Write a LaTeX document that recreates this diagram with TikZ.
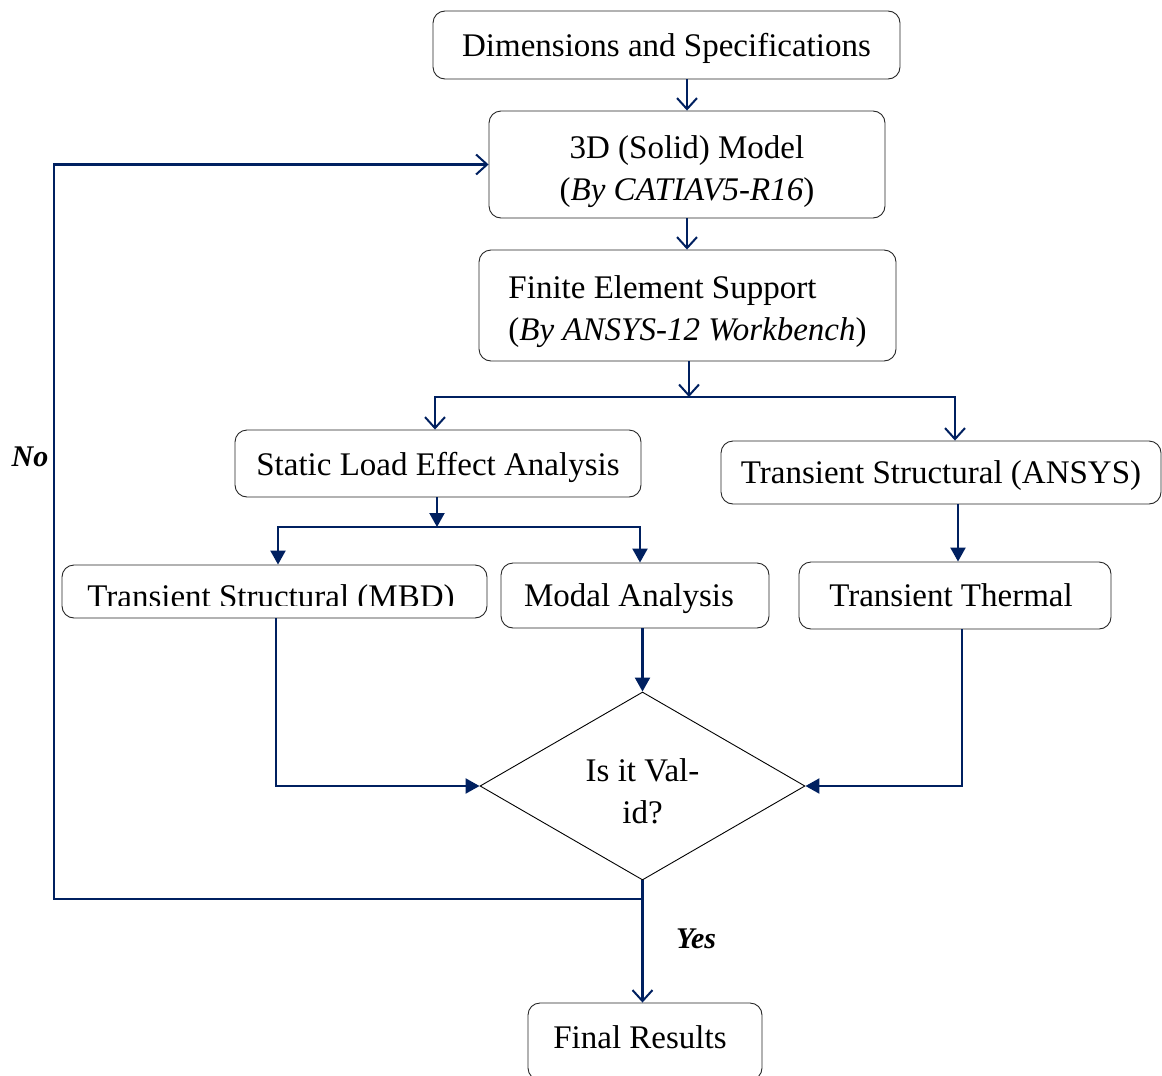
\documentclass[tikz,border=0pt]{standalone}
\usepackage{fontspec}
\setmainfont{Liberation Serif}
\usetikzlibrary{arrows.meta,shapes.geometric}
\definecolor{navy}{RGB}{0,32,96}
\begin{document}
\begin{tikzpicture}[x=1pt,y=-1pt,
  txt/.style={font=\fontsize{33}{42}\selectfont, inner sep=0pt, text depth=0pt},
  box/.style={draw=black!85, line width=0.9pt, rounded corners=12pt, inner sep=0pt, txt, align=center},
  conn/.style={draw=navy, line width=2.2pt},
  openarr/.style={conn, -{Straight Barb[length=11pt,width=20pt,line width=2pt]}},
  fillarr/.style={conn, -{Triangle[length=14pt,width=15pt]}},
  lbl/.style={font=\fontsize{30}{36}\selectfont\bfseries\itshape, inner sep=0pt}]
\useasboundingbox (0,0) rectangle (1162,1076);

\node[box, minimum width=467pt, minimum height=68pt] (b1) at (666.5,45) {Dimensions and Specifications};
\node[box, minimum width=396pt, minimum height=107pt] (b2) at (687,164.5) {};
\node[txt, align=center] (b2t) at ([yshift=-4pt]b2.center) {3D (Solid) Model\\(\textit{By CATIAV5-R16})};
\node[box, minimum width=417pt, minimum height=111pt] (b3) at (687.5,305.5) {};
\node[txt, align=left] (b3t) at ([yshift=-3pt]b3.center) {Finite Element Support\\(\textit{By ANSYS-12 Workbench})};
\node[box, minimum width=406pt, minimum height=67pt] (st) at (438,463.5) {Static Load Effect Analysis};
\node[box, minimum width=440pt, minimum height=63pt] (an) at (941,472.5) {Transient Structural (ANSYS)};

\node[box, minimum width=425pt, minimum height=53pt] (mbd) at (274.5,591.5) {};
\begin{scope}
  \clip (62,565) rectangle (487,605);
  \node[txt, anchor=base] (mbdt) at (271,607) {Transient Structural (MBD)};
\end{scope}
\node[box, minimum width=268pt, minimum height=65pt] (mo) at (635,595.5) {Modal Analysis\hspace*{12pt}};
\node[box, minimum width=312pt, minimum height=67pt] (th) at (955,595.5) {Transient Thermal\hspace*{8pt}};

\node[draw=black, line width=0.9pt, diamond, aspect=1.73, minimum width=325pt, minimum height=188pt, inner sep=0pt] (dia) at (642.5,786) {};
\node[txt, align=center] (diat) at ([yshift=-5pt]dia.center) {Is it Val-\\id?};

\node[box, minimum width=234pt, minimum height=77pt] (fin) at (645,1041.5) {};
\node[txt, anchor=base] (fint) at (640,1048) {Final Results};

\node[lbl] (no) at (30,457) {No};
\node[lbl] (yes) at (696,939) {Yes};

% connectors
\coordinate (j1) at (689,397);
\coordinate (j2) at (437,527);
\coordinate (cno) at (54,899);
\draw[openarr] (b1.south -| b2.north) -- (b2.north);
\draw[openarr] (b2.south) -- (b2.south |- b3.north);
\draw[openarr] (b3.south -| j1) -- (j1);
\draw[openarr] (j1) -| ([xshift=-3pt]st.north);
\draw[openarr] (j1) -| ([xshift=14pt]an.north);
\draw[fillarr] (st.south -| j2) -- (j2);
\draw[fillarr] (j2) -| ([xshift=3.5pt]mbd.north);
\draw[fillarr] (j2) -| ([xshift=5pt]mo.north);
\draw[fillarr] ([xshift=17pt]an.south) -- ([xshift=17pt]an.south |- th.north);
\draw[fillarr] (mo.south -| dia.north) -- (dia.north);
\draw[fillarr] ([xshift=1.5pt]mbd.south) |- (dia.west);
\draw[fillarr] ([xshift=7pt]th.south) |- (dia.east);
\draw[openarr] (dia.south) -- (dia.south |- fin.north);
\draw[openarr] (dia.south |- cno) -- (cno) |- (b2.west);
\end{tikzpicture}
\end{document}
